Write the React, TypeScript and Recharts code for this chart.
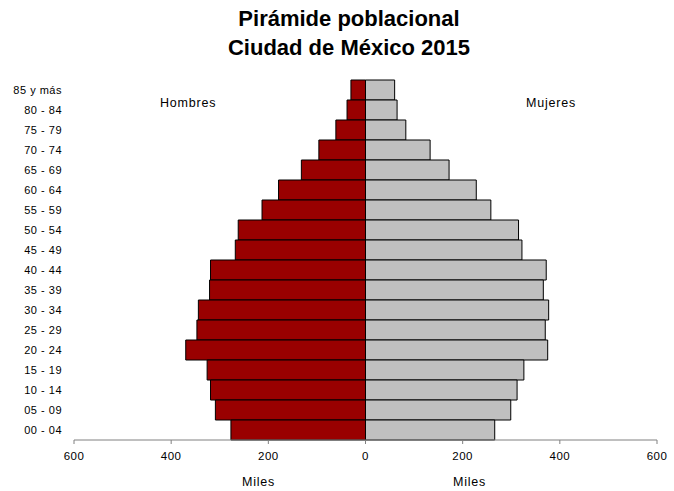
import { BarChart, Bar, XAxis, YAxis } from 'recharts';

// grupos de edad, de arriba hacia abajo
const ages = [
  '85 y más', '80 - 84', '75 - 79', '70 - 74', '65 - 69', '60 - 64', '55 - 59',
  '50 - 54', '45 - 49', '40 - 44', '35 - 39', '30 - 34', '25 - 29', '20 - 24',
  '15 - 19', '10 - 14', '05 - 09', '00 - 04',
];

// miles de personas
const hombres = [30, 38, 61, 96, 132, 179, 213, 262, 268, 319, 321, 344, 347, 370, 326, 319, 309, 277];
const mujeres = [60, 65, 83, 133, 172, 228, 258, 315, 322, 372, 366, 377, 370, 375, 326, 312, 299, 266];

const xTicks = [-600, -400, -200, 0, 200, 400, 600];

const FONT = '"Liberation Sans", Arial, sans-serif';

const data = ages.map((age, i) => ({ age, h: -hombres[i], m: mujeres[i] }));

const lbl = { position: 'absolute' as const, fontSize: 12.5, letterSpacing: 0.8, color: '#000' };

export default function App() {
  return (
    <div style={{ position: 'absolute', left: 0, top: 0, width: 674, height: 491, background: '#fff', fontFamily: FONT }}>
      <div style={{ position: 'absolute', left: 0, width: 698, top: 4, textAlign: 'center', fontWeight: 'bold', fontSize: 22, lineHeight: '29px', color: '#000' }}>
        Pirámide poblacional<br />Ciudad de México 2015
      </div>
      <BarChart
        width={674}
        height={491}
        data={data}
        layout="vertical"
        stackOffset="sign"
        barCategoryGap={0}
        margin={{ top: 80, right: 17, bottom: 31, left: 0 }}
      >
        <XAxis
          type="number"
          domain={[-600, 600]}
          ticks={xTicks}
          tickFormatter={(v: number) => String(Math.abs(v))}
          tick={{ fill: '#000', fontSize: 11.5, fontFamily: FONT, style: { letterSpacing: 0.5 } }}
          tickSize={4}
          tickMargin={8}
          axisLine={{ stroke: '#808080' }}
          tickLine={{ stroke: '#808080' }}
          height={20}
        />
        <YAxis
          type="category"
          dataKey="age"
          width={74}
          axisLine={false}
          tickLine={false}
          tickMargin={6}
          interval={0}
          tick={{ fill: '#000', fontSize: 11, fontFamily: FONT, style: { letterSpacing: 0.5 } }}
        />
        <Bar dataKey="h" stackId="a" fill="#990000" stroke="#000" strokeWidth={1} isAnimationActive={false} />
        <Bar dataKey="m" stackId="a" fill="#C0C0C0" stroke="#000" strokeWidth={1} isAnimationActive={false} />
      </BarChart>
      <div style={{ ...lbl, left: 160, top: 96 }}>Hombres</div>
      <div style={{ ...lbl, left: 526, top: 96 }}>Mujeres</div>
      <div style={{ ...lbl, left: 242, top: 475 }}>Miles</div>
      <div style={{ ...lbl, left: 453, top: 475 }}>Miles</div>
    </div>
  );
}
